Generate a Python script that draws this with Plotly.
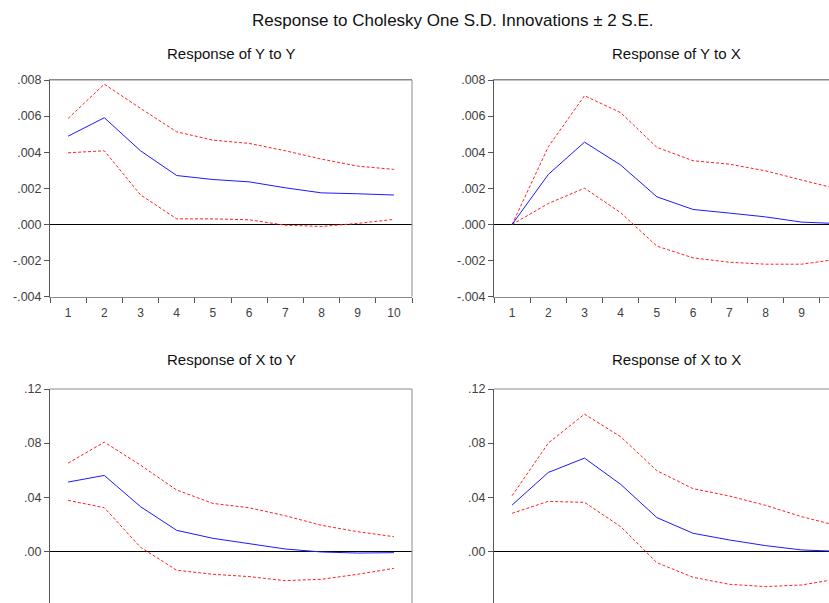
import plotly.graph_objects as go

periods = list(range(1, 11))

# Response of Y to Y
yy_mid = [0.00489, 0.00591, 0.00408, 0.00271, 0.00249, 0.00236, 0.00203, 0.00175, 0.00170, 0.00163]
yy_up = [0.00587, 0.00777, 0.00643, 0.00513, 0.00467, 0.00449, 0.00408, 0.00362, 0.00323, 0.00305]
yy_lo = [0.00397, 0.00408, 0.00164, 0.00031, 0.00031, 0.00026, -0.00004, -0.00011, 0.00006, 0.00028]

# Response of Y to X
yx_mid = [0.0, 0.00277, 0.00456, 0.00329, 0.00153, 0.00083, 0.00063, 0.00042, 0.00013, 0.00005]
yx_up = [0.0, 0.00430, 0.00713, 0.00619, 0.00427, 0.00353, 0.00334, 0.00297, 0.00246, 0.00196]
yx_lo = [0.0, 0.00116, 0.00201, 0.00065, -0.00120, -0.00185, -0.00209, -0.00220, -0.00220, -0.00192]

# Response of X to Y
xy_mid = [0.0512, 0.0561, 0.0330, 0.0155, 0.0096, 0.0059, 0.0017, -0.0005, -0.0013, -0.0010]
xy_up = [0.0652, 0.0807, 0.0637, 0.0453, 0.0354, 0.0322, 0.0263, 0.0192, 0.0145, 0.0108]
xy_lo = [0.0377, 0.0322, 0.0030, -0.0140, -0.0170, -0.0187, -0.0217, -0.0207, -0.0170, -0.0126]

# Response of X to X
xx_mid = [0.0342, 0.0583, 0.0689, 0.0495, 0.0249, 0.0133, 0.0084, 0.0042, 0.0010, 0.0000]
xx_up = [0.0411, 0.0800, 0.1014, 0.0847, 0.0596, 0.0463, 0.0409, 0.0340, 0.0256, 0.0188]
xx_lo = [0.0281, 0.0369, 0.0362, 0.0182, -0.0084, -0.0192, -0.0244, -0.0261, -0.0249, -0.0204]

top_tickvals = [0.008, 0.006, 0.004, 0.002, 0.0, -0.002, -0.004]
top_ticktext = [".008", ".006", ".004", ".002", ".000", "-.002", "-.004"]
bot_tickvals = [0.12, 0.08, 0.04, 0.0, -0.04]
bot_ticktext = [".12", ".08", ".04", ".00", "-.04"]

main_title = "Response to Cholesky One S.D. Innovations \u00b1 2 S.E."
panel_titles = ["Response of Y to Y", "Response of Y to X", "Response of X to Y", "Response of X to X"]

W, H = 829, 603
FONT = "Liberation Sans, Arial, sans-serif"
TICKCOL = "#404040"
AXCOL = "#555555"
BOXCOL = "#8a8a8a"

fig = go.Figure()

panels = [
    ("x", "y", yy_mid, yy_up, yy_lo),
    ("x2", "y2", yx_mid, yx_up, yx_lo),
    ("x3", "y3", xy_mid, xy_up, xy_lo),
    ("x4", "y4", xx_mid, xx_up, xx_lo),
]
for xa, ya, mid, up, lo in panels:
    fig.add_trace(go.Scatter(x=periods, y=up, xaxis=xa, yaxis=ya, mode="lines",
                             line=dict(color="#ff2020", width=1, dash="3px,2px"), showlegend=False))
    fig.add_trace(go.Scatter(x=periods, y=lo, xaxis=xa, yaxis=ya, mode="lines",
                             line=dict(color="#ff2020", width=1, dash="3px,2px"), showlegend=False))
    fig.add_trace(go.Scatter(x=periods, y=mid, xaxis=xa, yaxis=ya, mode="lines",
                             line=dict(color="#1a1aff", width=1), showlegend=False))

def px_x(p):
    return p / W

def px_y(p):
    return 1 - p / H

step = 36.2
left_dom = [px_x(50), px_x(412)]
right_dom = [px_x(494), 1.0]
top_dom = [px_y(296.7), px_y(80)]
bot_dom = [0.0, px_y(389)]
right_max = 0.5 + (W - 494) / step
bot_min = -(603 - 551.3) * 0.04 / 54.1

def xaxis_cfg(dom, rng, show_bottom, anchor):
    d = dict(domain=dom, range=rng, anchor=anchor, automargin=False, showgrid=False, zeroline=False,
             tickmode="array", tickvals=periods, ticktext=[str(p) for p in periods],
             ticks="outside" if show_bottom else "", ticklen=5, tickcolor="rgba(0,0,0,0)",
             showticklabels=show_bottom,
             tickfont=dict(family=FONT, size=12, color=TICKCOL),
             showline=show_bottom, linecolor=BOXCOL, linewidth=1, mirror=show_bottom)
    if show_bottom:
        d["minor"] = dict(tickmode="linear", tick0=0.5, dtick=1, ticks="outside",
                          ticklen=5, tickcolor=AXCOL, tickwidth=1, showgrid=False)
    return d

def yaxis_cfg(dom, rng, tv, tt, anchor):
    return dict(domain=dom, range=rng, anchor=anchor, automargin=False, showgrid=False, zeroline=True,
                zerolinecolor="#000000", zerolinewidth=1,
                tickmode="array", tickvals=tv, ticktext=tt, ticks="outside",
                ticklen=5, tickcolor=AXCOL, tickwidth=1,
                tickfont=dict(family=FONT, size=12.5, color=TICKCOL),
                showline=True, linecolor=AXCOL, linewidth=1, mirror=False)

top_rng = [-0.004, 0.008]
bot_rng = [bot_min, 0.12]

fig.update_layout(
    xaxis=xaxis_cfg(left_dom, [0.5, 10.5], True, "y"),
    yaxis=yaxis_cfg(top_dom, top_rng, top_tickvals, top_ticktext, "x"),
    xaxis2=xaxis_cfg(right_dom, [0.5, right_max], True, "y2"),
    yaxis2=yaxis_cfg(top_dom, top_rng, top_tickvals, top_ticktext, "x2"),
    xaxis3=xaxis_cfg(left_dom, [0.5, 10.5], False, "y3"),
    yaxis3=yaxis_cfg(bot_dom, bot_rng, bot_tickvals, bot_ticktext, "x3"),
    xaxis4=xaxis_cfg(right_dom, [0.5, right_max], False, "y4"),
    yaxis4=yaxis_cfg(bot_dom, bot_rng, bot_tickvals, bot_ticktext, "x4"),
)

shapes = []
for xr, yr, right_border in [("x", "y", True), ("x2", "y2", False), ("x3", "y3", True), ("x4", "y4", False)]:
    shapes.append(dict(type="line", xref=f"{xr} domain", yref=f"{yr} domain",
                       x0=0, x1=1, y0=1, y1=1, line=dict(color=BOXCOL, width=1)))
    if right_border:
        shapes.append(dict(type="line", xref=f"{xr} domain", yref=f"{yr} domain",
                           x0=1, x1=1, y0=0, y1=1, line=dict(color=BOXCOL, width=1)))
fig.update_layout(shapes=shapes)

annotations = [
    dict(text=main_title, x=px_x(452), y=px_y(21), xref="paper", yref="paper",
         showarrow=False, font=dict(family=FONT, size=17, color="#111111"),
         xanchor="center", yanchor="middle"),
]
title_pos = [(px_x(231.5), px_y(53)), (px_x(676), px_y(53)), (px_x(231.5), px_y(360)), (px_x(676), px_y(360))]
for t, (tx, ty) in zip(panel_titles, title_pos):
    annotations.append(dict(text=t, x=tx, y=ty, xref="paper", yref="paper", showarrow=False,
                            font=dict(family=FONT, size=15, color="#111111"),
                            xanchor="center", yanchor="middle"))
for ya, xpos in [("y3", px_x(45)), ("y4", px_x(489))]:
    annotations.append(dict(text=bot_ticktext[-1], x=xpos, y=bot_tickvals[-1], xref="paper", yref=ya,
                            showarrow=False, xanchor="right", yanchor="middle",
                            font=dict(family=FONT, size=12.5, color=TICKCOL)))
fig.update_layout(annotations=annotations)

fig.update_layout(width=W, height=H,
                  margin=dict(l=0, r=0, t=0, b=0, pad=0, autoexpand=False),
                  paper_bgcolor="white", plot_bgcolor="white")

fig.write_html("out.html", config={"displayModeBar": False},
               post_script="document.body.style.margin='0px';document.body.style.overflow='hidden';")
